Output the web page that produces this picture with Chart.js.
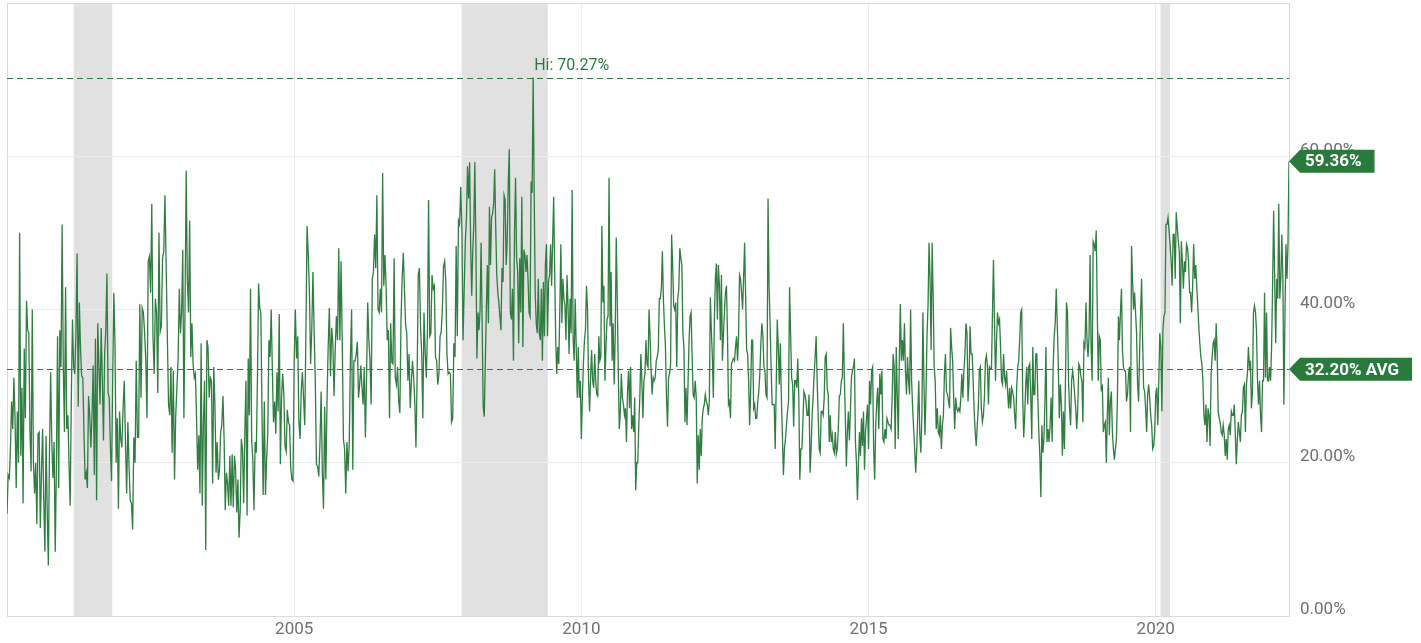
<!DOCTYPE html>
<html>
<head>
<meta charset="utf-8">
<script src="https://cdn.jsdelivr.net/npm/chart.js@4.4.1/dist/chart.umd.min.js"></script>
<style>
html,body{margin:0;padding:0;background:#fff;}
#wrap{width:1421px;height:643px;position:relative;}
</style>
</head>
<body>
<div id="wrap"><canvas id="c" width="1421" height="643"></canvas></div>
<script>
// ---- Data (weekly bearish sentiment %) ----
const firstDate = '2000-01-01';
const lastDate = '2022-04-28';
const hiValue = 70.27;
const avgValue = 32.20;
const lastValue = 59.36;
const recessions = [['2001-03-01','2001-11-01'],['2007-12-01','2009-06-01'],['2020-02-01','2020-04-01']];
const xTickYears = [2005, 2010, 2015, 2020];
const yTickValues = [0, 20, 40, 60];

const bear2000 = [13.3,18.4,18.0,21.8,28.0,24.4,31.1,25.8,16.7,26.7,20.0,50.0,20.9,29.8,14.7,34.9,25.8,41.1,37.3,36.9,24.0,18.9,40.0,20.0,16.0,20.0,12.0,23.8,24.0,11.5,18.7,24.4,15.1,8.4,23.5,13.8,6.6,21.8,31.8,22.7,18.0,22.7,8.4,19.5,36.5,16.7,37.3,32.5,51.1,32.7];
const bear2001 = [24.0,42.9,24.4,26.2,19.8,14.4,28.5,38.7,32.5,31.6,36.9,47.3,27.3,40.9,34.9,31.3,31.1,24.0,17.8,18.7,16.7,28.7,26.2,22.0,26.2,32.7,18.4,36.2,15.1,38.2,32.9,27.6,37.6,30.7,22.9,34.2,37.3,44.7,29.1,28.5,22.2,17.6,30.7,42.2,35.6,20.0,25.8,14.0,26.7,23.1];
const bear2002 = [22.0,27.1,30.7,22.7,16.0,25.3,19.5,15.1,14.7,11.3,23.3,20.0,33.3,23.3,23.3,40.7,28.5,40.2,39.6,36.9,33.3,25.8,46.3,46.9,42.2,53.8,36.5,31.6,41.4,39.6,29.1,50.0,37.1,37.8,46.7,47.6,54.9,45.8,36.5,27.6,26.2,32.5,21.3,32.0,17.8,26.2,29.8,33.6];
const bear2003 = [42.7,36.9,39.6,47.8,25.8,40.5,58.1,44.0,39.6,51.6,33.8,38.2,32.9,31.1,31.6,25.8,19.1,23.6,16.0,35.6,14.4,25.3,30.7,8.6,36.0,35.1,28.5,31.1,30.7,17.3,32.5,27.6,18.7,22.7,17.8,19.1,24.0,24.9,28.7,23.1,13.8,18.7,17.3,14.4,20.9,14.4,21.1,14.2,20.9,19.1];
const bear2004 = [13.5,17.8,10.2,13.8,23.1,21.8,14.7,23.6,30.7,13.1,33.6,26.2,42.7,22.9,20.4,13.8,22.7,21.3,30.7,43.4,40.2,39.6,26.2,15.8,28.0,15.8,20.4,23.8,36.0,33.8,40.0,32.0,25.3,28.0,23.8,31.8,26.7,39.4,19.8,28.5,31.6,28.9,22.2,21.5,26.9,25.3,24.9,19.3,17.8,17.6];
const bear2005 = [33.3,40.0,33.6,36.5,25.3,23.1,29.3,31.8,28.5,24.9,36.9,50.9,47.1,42.2,32.9,37.3,44.9,37.3,30.7,19.8,19.5,18.2,22.7,29.3,18.9,14.0,27.3,17.8,28.0,35.1,40.2,31.3,37.6,35.6,28.7,34.7,39.1,36.0,48.0,36.0,46.3,36.0,23.1,21.8,16.0,22.7,18.9,22.7,33.8];
const bear2006 = [40.0,19.1,33.3,33.3,34.2,35.8,28.5,30.2,32.7,29.8,27.6,32.5,23.3,31.1,40.9,36.0,33.3,27.6,44.0,44.9,49.8,45.4,54.9,40.0,39.6,42.7,39.6,57.8,43.1,47.1,43.1,36.0,37.3,25.8,38.2,33.1,32.9,46.7,31.1,30.2,32.5,28.0,26.5,38.7,44.0,47.4,42.7,38.0,36.9,30.7];
const bear2007 = [34.2,27.1,30.5,33.3,31.1,28.0,22.0,30.7,44.5,45.4,37.8,34.2,25.8,39.6,34.7,31.1,36.9,54.3,36.5,36.9,44.5,42.7,43.1,33.8,33.3,30.2,31.6,36.5,37.1,40.0,45.6,46.3,43.6,34.2,31.6,31.8,31.6,25.3,25.8,35.6,33.8,48.3,36.5,51.6,51.1,56.0,50.3,36.0,42.7,48.9];
const bear2008 = [52.0,58.7,54.5,59.2,48.5,41.8,47.6,51.1,59.2,48.5,33.6,39.6,37.3,40.0,48.7,38.2,27.3,26.0,32.9,40.0,45.8,38.2,53.4,45.8,52.0,52.5,53.8,58.3,50.7,44.5,42.2,40.9,39.1,37.3,45.4,43.6,54.9,54.3,45.8,48.9,56.5,60.9,39.6,38.7,42.7,33.3,50.3,57.2,46.7,44.9,35.6,46.7,39.6,54.7,35.1];
const bear2009 = [47.8,47.1,44.9,47.1,44.0,39.6,39.1,56.7,55.2,70.27,55.2,42.2,38.2,36.9,44.0,36.9,36.0,42.7,33.3,43.6,36.5,46.0,48.5,36.5,43.6,44.5,48.5,43.1,48.9,54.7,44.9,36.0,31.6,35.1,32.9,40.0,48.5,38.2,44.0,41.4,40.5,36.0,44.5,40.5,34.2,41.4,36.9,55.6,36.0,33.3,41.4,35.1,28.5,35.1,28.5,30.7];
const bear2010 = [23.1,28.5,32.9,36.0,37.3,43.1,40.0,30.7,26.7,31.1,34.7,30.7,29.8,34.2,30.7,28.9,28.7,36.5,33.3,33.8,50.9,40.9,43.1,30.7,35.1,38.7,39.1,57.2,37.8,44.9,33.3,38.2,30.2,36.5,49.4,41.4,32.0,24.4,26.7,31.6,28.5,27.6,26.2,27.1,22.7,29.3,32.0,27.1,32.5,24.4,26.2,24.0,28.5,16.4,20.0,20.0];
const bear2011 = [24.9,28.5,34.2,30.7,25.8,30.7,31.6,36.0,32.9,32.5,40.0,36.5,32.0,28.9,31.1,30.7,31.1,33.3,33.8,34.7,41.4,41.4,42.7,47.6,41.4,37.8,35.1,28.5,24.7,31.1,31.6,32.9,49.8,45.8,40.5,40.0,40.9,32.5,41.4,42.7,48.0,46.7,45.8,36.9,35.1,25.3,29.8,24.9,30.2,36.0,39.1,39.6,33.8,28.9,28.5,30.7];
const bear2012 = [28.5,17.3,23.6,19.1,24.4,20.9,25.8,27.1,27.6,28.9,28.0,27.6,26.2,28.0,41.6,37.3,33.8,28.5,38.7,44.0,46.0,38.7,45.8,43.1,36.0,44.5,33.3,36.9,39.6,42.2,43.1,36.9,27.6,28.0,25.8,32.9,33.3,33.6,33.3,35.1,36.5,33.3,36.5,44.5,44.0,42.2,40.0,44.0,48.7,41.8,34.7,34.2,30.7,24.9,29.3,36.0,36.0];
const bear2013 = [27.1,27.6,25.8,25.8,28.0,29.3,31.6,35.6,38.2,36.5,32.5,32.0,28.9,28.5,54.5,43.1,38.2,32.5,27.6,27.6,27.6,21.8,30.2,38.7,35.1,30.2,35.6,28.5,23.6,18.4,21.8,23.1,24.9,26.7,28.0,42.9,36.9,31.1,30.2,24.7,30.7,30.7,29.8,33.6,28.5,17.8,21.8,21.8,25.3,29.3,28.9,28.0,26.2,26.2,28.9,18.7];
const bear2014 = [21.8,26.2,28.5,31.6,33.8,36.5,30.7,26.2,21.8,21.3,26.7,26.7,26.2,28.5,33.8,34.2,29.6,28.9,22.7,26.2,22.7,23.6,21.8,21.3,24.0,21.1,21.8,24.4,28.7,28.9,30.7,31.1,38.2,31.1,25.8,19.5,24.0,26.7,22.9,26.7,31.1,32.0,32.5,33.6,22.7,20.0,15.1,20.0,24.0,20.9,25.8,22.2,26.7,19.1,24.0,25.8,27.6];
const bear2015 = [21.8,30.7,27.6,32.0,32.5,21.8,17.8,24.9,28.0,29.8,24.4,31.6,28.9,32.0,23.1,22.7,24.4,23.1,25.8,25.3,24.9,24.9,24.4,28.5,34.2,32.5,21.8,35.1,28.9,23.1,33.3,40.7,33.3,36.0,33.3,38.2,32.0,28.9,33.8,30.7,28.9,40.0,30.7,27.1,24.4,21.8,18.7,21.8,26.2,30.7,23.6,21.3,26.2,39.6,30.7,23.6];
const bear2016 = [28.9,36.5,40.5,48.7,44.0,34.7,48.7,41.8,32.5,30.7,24.4,27.1,24.0,23.6,26.2,21.8,24.9,26.2,31.6,34.2,29.3,28.9,28.0,27.1,37.6,35.1,33.3,28.5,24.4,28.5,27.1,26.7,27.1,26.7,28.5,31.6,28.5,32.0,34.2,38.2,36.9,28.0,30.7,37.8,34.2,34.2,30.7,26.7,24.0,22.2,24.9,27.1,32.0,32.5,27.1,25.3];
const bear2017 = [26.2,28.5,33.3,34.0,32.5,27.6,32.5,32.2,32.2,39.6,46.5,38.2,30.7,36.0,39.6,38.2,38.7,35.1,30.7,30.2,34.2,31.1,30.2,32.0,29.3,27.1,29.8,27.1,29.8,29.3,28.5,26.2,24.4,29.8,32.5,33.3,36.0,39.6,40.0,28.5,23.3,26.2,30.2,32.5,27.6,32.5,32.9,28.5,23.1,35.1,28.9,28.9,34.2,34.2,28.5,24.0,20.9];
const bear2018 = [15.5,24.9,21.3,23.1,28.0,35.1,22.7,24.4,22.7,24.9,28.5,22.7,32.5,36.5,38.2,42.7,38.2,32.9,25.8,30.2,27.6,20.9,26.7,21.8,30.7,40.9,39.6,30.7,27.1,24.9,30.7,32.0,30.7,28.9,27.1,24.4,27.1,32.9,32.5,31.3,30.7,25.3,35.6,35.1,40.9,36.0,33.8,36.5,47.1,35.1,30.7,48.9,48.5,47.6,50.3,40.0];
const bear2019 = [30.7,36.5,36.0,29.3,30.2,24.0,24.9,25.3,20.0,26.2,31.1,23.6,28.0,29.3,24.0,21.8,20.4,21.8,23.1,28.5,39.1,36.0,39.6,42.7,34.7,32.5,32.0,32.0,28.0,28.9,31.6,32.5,24.0,48.3,44.0,40.0,42.2,39.6,36.9,30.2,28.0,34.2,39.6,44.0,36.0,29.8,29.3,27.1,24.0,28.9,30.2,28.5,26.2,24.9,21.8,22.2,24.0];
const bear2020 = [28.9,29.8,24.9,30.7,36.9,35.1,26.7,37.3,39.1,39.6,51.1,51.1,52.0,50.3,48.5,46.3,43.1,49.8,49.8,44.0,52.7,50.7,48.9,47.6,38.2,48.9,46.3,42.7,46.3,44.9,48.5,48.0,46.3,42.2,42.2,39.6,43.1,48.5,44.0,45.8,43.1,40.5,37.8,35.6,33.8,32.9,30.7,26.2,24.9,27.6,22.7,27.1,26.2,22.2,31.6,33.8];
const bear2021 = [35.6,36.0,33.3,38.2,34.2,26.7,25.8,25.3,24.0,23.6,24.9,23.6,20.9,23.1,20.4,24.4,24.9,23.6,26.7,26.2,26.2,27.6,23.6,19.8,23.1,25.3,24.0,22.7,26.2,26.7,29.8,30.2,24.0,30.2,31.6,35.1,32.5,33.3,27.1,29.3,39.6,40.5,39.6,37.3,30.7,27.6,30.7,26.2,24.0,30.7,30.7,42.2,31.1,39.6,30.7,30.7,32.5];
const bear2022 = [30.7,35.1,43.6,52.9,44.0,35.6,44.0,41.4,53.8,41.4,44.0,49.8,44.0,27.6,38.7,48.5,44.0,48.5,59.36];

const years = [2000,2001,2002,2003,2004,2005,2006,2007,2008,2009,2010,2011,2012,2013,2014,2015,2016,2017,2018,2019,2020,2021,2022];
const yearValues = [bear2000,bear2001,bear2002,bear2003,bear2004,bear2005,bear2006,bear2007,bear2008,bear2009,bear2010,bear2011,bear2012,bear2013,bear2014,bear2015,bear2016,bear2017,bear2018,bear2019,bear2020,bear2021,bear2022];

// ---- Build ----
function decYear(s){
  const p = s.split('-').map(Number);
  const t = Date.UTC(p[0], p[1]-1, p[2]), a = Date.UTC(p[0],0,1), b = Date.UTC(p[0]+1,0,1);
  return p[0] + (t-a)/(b-a);
}
const xMin = decYear(firstDate);
const xMax = decYear(lastDate);
const points = [];
years.forEach((yr, k) => {
  const vals = yearValues[k];
  const isLast = k === years.length - 1;
  const step = isLast ? (xMax - yr) / (vals.length - 1) : 1 / vals.length;
  vals.forEach((v, i) => points.push({x: yr + i * step, y: v}));
});
let hiPoint = points[0];
points.forEach(p => { if (p.y > hiPoint.y) hiPoint = p; });

const GREEN = '#2b7a3d';
const LINE = '#2f7d40';
const FONT = 'Roboto, "Liberation Sans", Arial, sans-serif';
const FRAME = '#dadada';
const GRID = '#ececec';

const bandsPlugin = {
  id: 'bands',
  beforeDraw(chart) {
    const {ctx, chartArea: a, scales: {x}} = chart;
    ctx.save();
    ctx.fillStyle = '#e1e1e1';
    recessions.forEach(r => {
      const x0 = x.getPixelForValue(decYear(r[0]));
      const x1 = x.getPixelForValue(decYear(r[1]));
      ctx.fillRect(x0, a.top, x1 - x0, a.bottom - a.top);
    });
    ctx.restore();
  }
};

const refPlugin = {
  id: 'refs',
  afterDatasetsDraw(chart) {
    const {ctx, chartArea: a, scales: {x, y}} = chart;
    ctx.save();
    ctx.strokeStyle = FRAME; ctx.lineWidth = 1;
    ctx.beginPath(); ctx.moveTo(a.left, Math.round(a.top) + 0.5); ctx.lineTo(a.right, Math.round(a.top) + 0.5); ctx.stroke();
    ctx.strokeStyle = GREEN; ctx.lineWidth = 1; ctx.setLineDash([6, 4]);
    [hiValue, avgValue].forEach(v => {
      const py = Math.round(y.getPixelForValue(v)) + 0.5;
      ctx.beginPath(); ctx.moveTo(a.left, py); ctx.lineTo(a.right, py); ctx.stroke();
    });
    ctx.setLineDash([]);
    ctx.fillStyle = GREEN;
    ctx.font = '16px ' + FONT;
    ctx.textAlign = 'left'; ctx.textBaseline = 'alphabetic';
    ctx.fillText('Hi: ' + hiValue.toFixed(2) + '%', x.getPixelForValue(hiPoint.x) + 1, y.getPixelForValue(hiValue) - 8);
    ctx.restore();
  }
};

const tagPlugin = {
  id: 'tags',
  afterDraw(chart) {
    const {ctx, chartArea: a, scales: {y}} = chart;
    function tag(v, text) {
      const py = y.getPixelForValue(v);
      const x0 = a.right;
      ctx.font = 'bold 17px ' + FONT;
      const w = ctx.measureText(text).width;
      const h = 23, arrow = 11;
      const tx = x0 + 16;
      const x2 = tx + w + 13;
      ctx.fillStyle = GREEN;
      ctx.beginPath();
      ctx.moveTo(x0, py);
      ctx.lineTo(x0 + arrow, py - h / 2);
      ctx.lineTo(x2, py - h / 2);
      ctx.lineTo(x2, py + h / 2);
      ctx.lineTo(x0 + arrow, py + h / 2);
      ctx.closePath();
      ctx.fill();
      ctx.fillStyle = '#ffffff';
      ctx.textAlign = 'left'; ctx.textBaseline = 'middle';
      ctx.fillText(text, tx, py + 1);
    }
    ctx.save();
    tag(lastValue, lastValue.toFixed(2) + '%');
    tag(avgValue, avgValue.toFixed(2) + '% AVG');
    ctx.restore();
  }
};

new Chart(document.getElementById('c').getContext('2d'), {
  type: 'line',
  data: {
    datasets: [{
      data: points,
      borderColor: LINE,
      borderWidth: 1.3,
      pointRadius: 0,
      tension: 0,
      fill: false
    }]
  },
  options: {
    responsive: false,
    animation: false,
    parsing: false,
    layout: {padding: {left: 7, top: 3, right: 0, bottom: 0}},
    plugins: {legend: {display: false}, tooltip: {enabled: false}},
    scales: {
      x: {
        type: 'linear', min: xMin, max: xMax,
        afterBuildTicks(s) { s.ticks = [{value: xMin}].concat(xTickYears.map(v => ({value: v}))); },
        ticks: {
          callback: v => (xTickYears.includes(v) ? String(v) : ''),
          color: '#707070', font: {family: FONT, size: 17}, padding: 4, maxRotation: 0, autoSkip: false
        },
        grid: {color: c => (c.tick && c.tick.value === xMin ? FRAME : GRID), drawTicks: false, lineWidth: 1},
        border: {display: true, color: FRAME},
        afterFit(s) { s.height = 27; s.paddingLeft = 0; s.paddingRight = 0; }
      },
      y: {
        position: 'right', min: 0, max: 80,
        afterBuildTicks(s) { s.ticks = yTickValues.map(v => ({value: v})); },
        ticks: {
          callback: v => v.toFixed(2) + '%',
          color: '#707070', font: {family: FONT, size: 17}, padding: 11, labelOffset: -6
        },
        grid: {color: c => (c.tick && c.tick.value === 0 ? FRAME : GRID), drawTicks: false},
        border: {display: true, color: FRAME},
        afterFit(s) { s.width = 132; s.paddingTop = 0; s.paddingBottom = 0; }
      }
    }
  },
  plugins: [bandsPlugin, refPlugin, tagPlugin]
});
</script>
</body>
</html>
